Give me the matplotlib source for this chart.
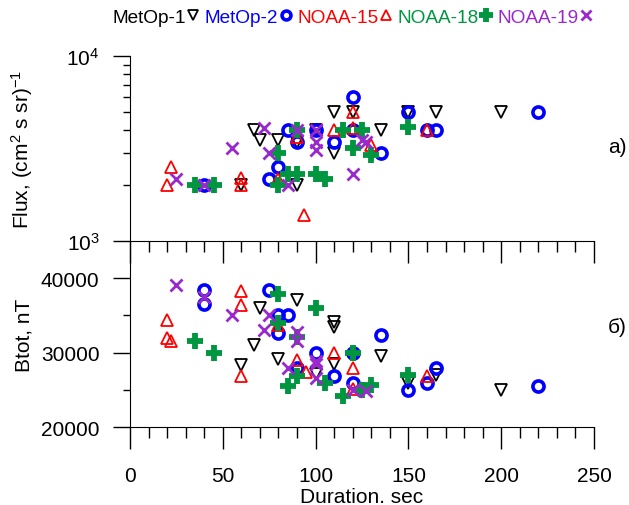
import matplotlib
matplotlib.use("Agg")
import matplotlib.pyplot as plt
from matplotlib.lines import Line2D
from matplotlib.ticker import MultipleLocator, FixedLocator, LogLocator, NullFormatter

plt.rcParams['font.family'] = ['Liberation Sans', 'DejaVu Sans']
plt.rcParams['mathtext.fontset'] = 'custom'
plt.rcParams['mathtext.rm'] = 'Liberation Sans'
plt.rcParams['mathtext.it'] = 'Liberation Sans:italic'
plt.rcParams['mathtext.bf'] = 'Liberation Sans:bold'

# ---- data: panel a) particle flux, panel б) total field ----
satellites = ['MetOp-1', 'MetOp-2', 'NOAA-15', 'NOAA-18', 'NOAA-19']

metop1_dur_a = [60, 67, 70, 80, 90, 90, 100, 110, 110, 120, 135, 150, 165, 200]
metop1_flux = [2000, 4000, 3500, 3500, 2000, 3450, 4000, 3000, 5000, 5000, 4000, 5000, 5000, 5000]
metop1_dur_b = [60, 67, 70, 80, 90, 100, 110, 110, 110, 135, 150, 165, 200]
metop1_btot = [28300, 31000, 36000, 29100, 37100, 27100, 34100, 33500, 28500, 29500, 26000, 27000, 25000]

metop2_dur_a = [40, 75, 80, 85, 90, 100, 110, 120, 120, 135, 150, 160, 165, 220]
metop2_flux = [2000, 2170, 2500, 4000, 3450, 4000, 3450, 6000, 4000, 3000, 5000, 4000, 4000, 5000]
metop2_dur_b = [40, 40, 75, 80, 85, 80, 90, 100, 110, 120, 120, 135, 150, 160, 165, 220]
metop2_btot = [38400, 36500, 38400, 35000, 35000, 32600, 28000, 30000, 26900, 30000, 26000, 32400, 25000, 25900, 28000, 25500]

noaa15_dur_a = [20, 22, 60, 60, 80, 90, 94, 110, 120, 120, 130, 160]
noaa15_flux = [2000, 2500, 2200, 2000, 2170, 3650, 1370, 4000, 5000, 4100, 3300, 4000]
noaa15_dur_b = [20, 20, 22, 60, 60, 60, 80, 90, 95, 110, 120, 120, 160]
noaa15_btot = [34400, 32000, 31500, 38300, 36400, 26900, 33700, 29000, 27400, 30000, 28000, 25100, 26900]

noaa18_dur_a = [35, 45, 80, 80, 85, 90, 90, 100, 105, 115, 120, 125, 130, 150]
noaa18_flux = [2000, 2000, 3000, 2000, 2300, 2300, 4000, 2300, 2150, 4000, 3200, 4000, 2900, 4150]
noaa18_dur_b = [35, 45, 80, 80, 85, 90, 90, 100, 105, 115, 120, 125, 130, 150]
noaa18_btot = [31600, 30000, 37900, 34000, 25600, 32100, 26900, 36000, 26000, 24200, 30000, 25000, 25700, 27000]

noaa19_dur_a = [25, 40, 55, 72, 75, 85, 90, 100, 100, 100, 120, 125, 127]
noaa19_flux = [2150, 2000, 3200, 4100, 3000, 2000, 4000, 4000, 3450, 3100, 2300, 3500, 3420]
noaa19_dur_b = [25, 40, 55, 72, 75, 85, 90, 90, 100, 100, 100, 120, 127]
noaa19_btot = [39000, 37400, 35000, 33000, 35000, 28000, 32800, 31500, 28900, 28500, 26600, 25000, 24900]

x_ticks = [0, 50, 100, 150, 200, 250]
btot_ticks = [20000, 30000, 40000]

# ---- marker styles per satellite ----
styles = [
    dict(marker='v', color='black', mfc='none', ms=9, mew=1.3),
    dict(marker='o', color='#0000ff', mfc='none', ms=8, mew=2.6),
    dict(marker='^', color='#ff0000', mfc='none', ms=9, mew=1.3),
    dict(marker='+', color='#009640', mfc='none', ms=12, mew=4.2),
    dict(marker='x', color='#9a28cc', mfc='none', ms=9, mew=2.0),
]
text_colors = ['black', '#0000ff', '#ff0000', '#009640', '#9a28cc']

series_a = [(metop1_dur_a, metop1_flux), (metop2_dur_a, metop2_flux),
            (noaa15_dur_a, noaa15_flux), (noaa18_dur_a, noaa18_flux),
            (noaa19_dur_a, noaa19_flux)]
series_b = [(metop1_dur_b, metop1_btot), (metop2_dur_b, metop2_btot),
            (noaa15_dur_b, noaa15_btot), (noaa18_dur_b, noaa18_btot),
            (noaa19_dur_b, noaa19_btot)]

W, H = 629, 506
fig = plt.figure(figsize=(W / 100, H / 100), dpi=100)
left, right = 130 / W, 594 / W
ax_a = fig.add_axes([left, 1 - 241.7 / H, right - left, (241.7 - 57.3) / H])
ax_b = fig.add_axes([left, 1 - 428.3 / H, right - left, (428.3 - 241.7) / H])

for ax, series in ((ax_a, series_a), (ax_b, series_b)):
    for st, (xs, ys) in zip(styles, series):
        ax.plot(xs, ys, linestyle='none', **st)
    ax.set_xlim(0, 250)
    ax.spines['top'].set_visible(False)
    ax.spines['right'].set_visible(False)
    ax.xaxis.set_major_locator(FixedLocator(x_ticks))
    ax.xaxis.set_minor_locator(MultipleLocator(10))
    ax.tick_params(axis='x', which='major', direction='out', length=16, width=1, pad=12, labelsize=15)
    ax.tick_params(axis='x', which='minor', direction='out', length=8, width=1)
    ax.tick_params(axis='y', which='major', direction='out', length=12, width=1, pad=10, labelsize=15)
    ax.tick_params(axis='y', which='minor', direction='out', length=5, width=1)
    ax.patch.set_alpha(0)

ax_a.set_yscale('log')
ax_a.set_ylim(1e3, 1e4)
ax_a.yaxis.set_major_locator(LogLocator(base=10, numticks=5))
ax_a.yaxis.set_minor_locator(LogLocator(base=10, subs=range(2, 10), numticks=20))
ax_a.yaxis.set_minor_formatter(NullFormatter())
ax_a.tick_params(axis='x', labelbottom=False)
ax_a.set_ylabel(r'Flux, (cm$^2$ s sr)$^{-1}$', fontsize=15)
ax_a.yaxis.set_label_coords(-0.205, 0.5)
ax_a.text(1.03, 0.51, 'а)', transform=ax_a.transAxes, fontsize=15, va='center', ha='left')

ax_b.set_ylim(20000, 45000)
ax_b.yaxis.set_major_locator(FixedLocator(btot_ticks))
ax_b.yaxis.set_minor_locator(FixedLocator([25000, 35000]))
ax_b.set_ylabel('Btot, nT', fontsize=15)
ax_b.yaxis.set_label_coords(-0.208, 0.5)
ax_b.set_xlabel('Duration. sec', fontsize=15, labelpad=1)
ax_b.text(1.03, 0.54, 'б)', transform=ax_b.transAxes, fontsize=15, va='center', ha='left')

# legend across the top: name followed by its marker
handles = []
for st in styles:
    s = dict(st)
    s['ms'] = s['ms'] * 0.8
    handles.append(Line2D([], [], linestyle='none', **s))
leg = fig.legend(handles, satellites, loc='center', bbox_to_anchor=(352 / W, 1 - 18 / H),
                 ncol=5, markerfirst=False, frameon=False, handlelength=0.6,
                 handletextpad=0.1, columnspacing=0.3, fontsize=13.7, borderaxespad=0)
for t, c in zip(leg.get_texts(), text_colors):
    t.set_color(c)

fig.savefig('out.png', dpi=100)
